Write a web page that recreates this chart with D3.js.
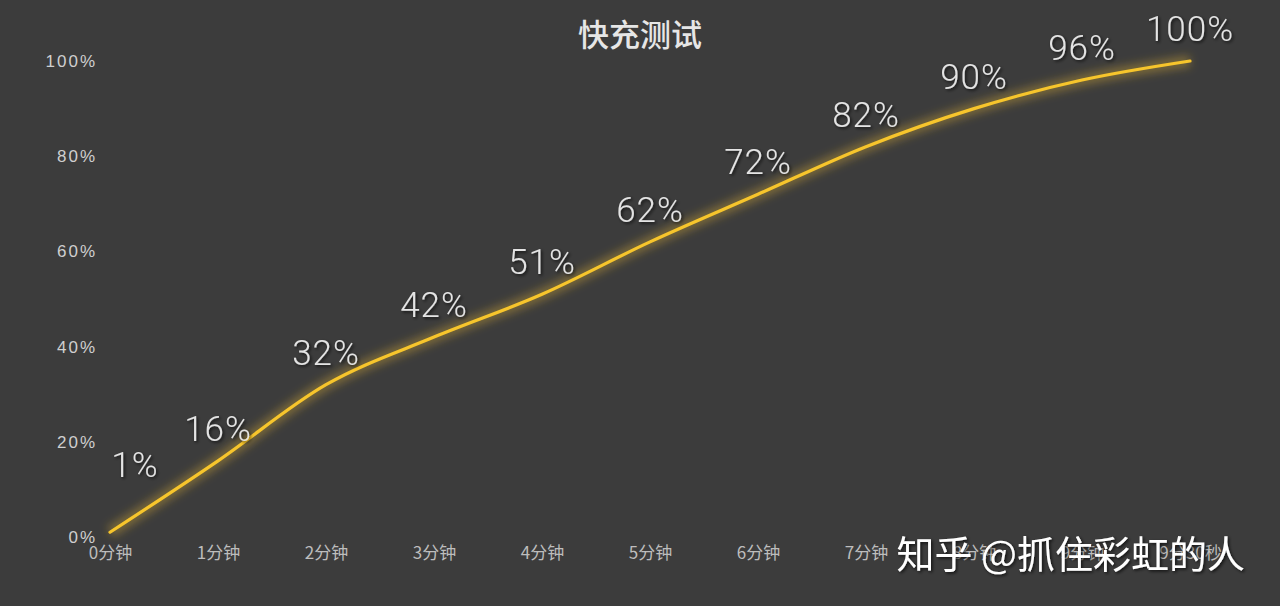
<!DOCTYPE html>
<html>
<head>
<meta charset="utf-8">
<script src="https://cdn.jsdelivr.net/npm/d3@7/dist/d3.min.js"></script>
<style>
  html, body { margin: 0; padding: 0; background: #3c3c3c; }
  svg { display: block; }
</style>
</head>
<body>
<svg id="chart" width="1280" height="606"></svg>
<script>
const title = "快充测试";
const categories = ["0分钟","1分钟","2分钟","3分钟","4分钟","5分钟","6分钟","7分钟","8分钟","9分钟","9分30秒"];
const values = [1, 16, 32, 42, 51, 62, 72, 82, 90, 96, 100];
const yTicks = [0, 20, 40, 60, 80, 100];
const watermark = "知乎 @抓住彩虹的人";

const svg = d3.select("#chart");
const W = 1280, H = 606;
svg.append("rect").attr("width", W).attr("height", H).attr("fill", "#3c3c3c");

const x = d3.scalePoint().domain(categories).range([110, 1190]);
const y = d3.scaleLinear().domain([0, 100]).range([537, 61]);

const defs = svg.append("defs");
const glow = defs.append("filter").attr("id", "glow")
  .attr("x", "-10%").attr("y", "-10%").attr("width", "120%").attr("height", "120%");
glow.append("feGaussianBlur").attr("stdDeviation", 4);
const shadow = defs.append("filter").attr("id", "shadow")
  .attr("x", "-10%").attr("y", "-30%").attr("width", "120%").attr("height", "160%");
shadow.append("feDropShadow").attr("dx", 1.5).attr("dy", 1.5).attr("stdDeviation", 1.5)
  .attr("flood-color", "#000").attr("flood-opacity", 0.7);

// Title
svg.append("text").attr("x", 640).attr("y", 46).attr("text-anchor", "middle")
  .attr("font-family", "'Noto Sans CJK SC', sans-serif").attr("font-size", 31)
  .attr("font-weight", 500).attr("fill", "#e6e6e6").text(title);

// Y axis
const yAxis = d3.axisLeft(y).tickValues(yTicks).tickFormat(d => d + "%").tickSize(0).tickPadding(0);
const gy = svg.append("g").attr("transform", "translate(97,0)").call(yAxis);
gy.select(".domain").remove();
gy.selectAll("text").attr("font-family", "'Liberation Sans', Arial, sans-serif")
  .attr("font-size", 17).attr("letter-spacing", "2px").attr("fill", "#cfcfcf");

// X axis
const xAxis = d3.axisBottom(x).tickSize(0).tickPadding(0);
const gx = svg.append("g").attr("transform", "translate(0,545)").call(xAxis);
gx.select(".domain").remove();
gx.selectAll("text").attr("font-family", "'Noto Sans CJK SC', sans-serif")
  .attr("font-size", 17).attr("fill", "#bdbdbd").attr("dy", "0.85em");

// Line
const line = d3.line().x((d, i) => x(categories[i])).y(d => y(d)).curve(d3.curveMonotoneX);
svg.append("path").datum(values).attr("d", line).attr("fill", "none")
  .attr("stroke", "#e8b830").attr("stroke-width", 12).attr("stroke-opacity", 0.35)
  .attr("filter", "url(#glow)");
svg.append("path").datum(values).attr("d", line).attr("fill", "none")
  .attr("stroke", "#f7c52c").attr("stroke-width", 3.2).attr("stroke-linecap", "round");

// Value labels
svg.append("g").selectAll("text").data(values).join("text")
  .attr("x", (d, i) => x(categories[i]) + (i === 0 ? 25 : 0))
  .attr("y", (d, i) => y(d) - (i === 0 ? 55 : 20))
  .attr("text-anchor", "middle")
  .attr("font-family", "Roboto, 'Liberation Sans', sans-serif")
  .attr("font-weight", 300)
  .attr("font-size", 35).attr("letter-spacing", "1px").attr("fill", "#e4e4e4")
  .attr("filter", "url(#shadow)")
  .text(d => d + "%");

// Watermark
svg.append("text").attr("x", 1245).attr("y", 568).attr("text-anchor", "end")
  .attr("font-family", "'Noto Sans CJK SC', sans-serif").attr("font-size", 38)
  .attr("fill", "#ffffff").attr("filter", "url(#shadow)").text(watermark);
</script>
</body>
</html>
